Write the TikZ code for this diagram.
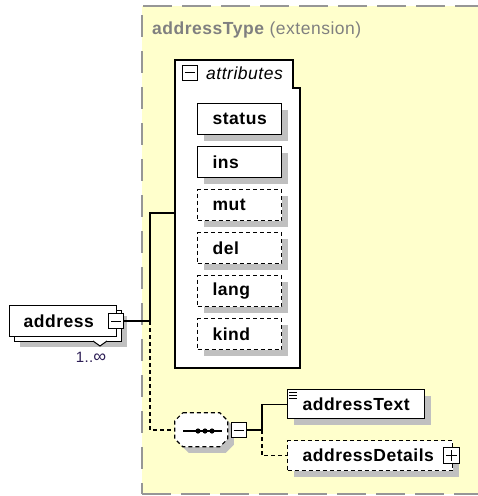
\documentclass[tikz,border=0pt]{standalone}
\usepackage{fontspec}
\setmainfont[LetterSpace=3]{Liberation Sans}
\usetikzlibrary{shadows}
\definecolor{bgyellow}{RGB}{255,255,204}
\definecolor{framegray}{RGB}{150,150,150}
\definecolor{shadowgray}{RGB}{192,192,192}
\definecolor{titlegray}{RGB}{128,128,128}
\definecolor{multcol}{RGB}{45,30,85}
\begin{document}
\begin{tikzpicture}[x=1pt,y=-1pt,
  every node/.style={font=\fontsize{17.5}{20}\selectfont},
  elem/.style={draw=black, line width=1.2pt, fill=white, anchor=north west,
    inner ysep=0pt, inner xsep=15pt, align=left,
    font=\bfseries\fontsize{17.5}{20}\selectfont,
    general shadow={fill=shadowgray, shadow xshift=6pt, shadow yshift=-6pt}},
  optelem/.style={elem, dash pattern=on 4pt off 3pt},
  conn/.style={line width=1.2pt},
  optconn/.style={conn, dash pattern=on 4pt off 3pt},
  toggle/.style={draw, line width=1pt, fill=white, minimum size=15pt, inner sep=0pt},
  sign/.style={line width=1pt},
]
\useasboundingbox (0,0) rectangle (478,496);
\clip (0,0) rectangle (478,496);

% yellow complex type area
\fill[bgyellow] (142,6) rectangle (500,494);
\draw[framegray, line width=1.5pt, dash pattern=on 29pt off 10pt] (143,6) -- (500,6);
\draw[framegray, line width=1.5pt, dash pattern=on 29pt off 10pt] (142,494) -- (500,494);
\draw[framegray, line width=1.5pt, dash pattern=on 22pt off 14pt] (142,15) -- (142,494);
\node[anchor=west, text=titlegray, inner sep=0pt] (title) at (152,30)
  {\bfseries addressType\mdseries\ (extension)};

% attributes box
\filldraw[fill=white, draw=black, line width=1.2pt]
  (175,60) -- (293,60) -- (293,88) -- (300,88) -- (300,368) -- (175,368) -- cycle;
\coordinate (attrin) at (175,213);
\node[toggle] (attrT) at (189.5,72.5) {};
\draw[sign] ([xshift=3pt]attrT.west) -- ([xshift=-3pt]attrT.east);
\node[anchor=west, inner sep=0pt, font=\itshape\fontsize{17.5}{20}\selectfont] (attrlbl) at (206,73) {attributes};

\node[elem, text width=54pt, minimum height=31pt] (status) at (197,103) {status};
\node[elem, text width=54pt, minimum height=31pt] (ins) at (197,146) {ins};
\node[optelem, text width=54pt, minimum height=31pt] (mut) at (197,189) {mut};
\node[optelem, text width=54pt, minimum height=31pt] (del) at (197,232) {del};
\node[optelem, text width=54pt, minimum height=31pt] (lang) at (197,275) {lang};
\node[optelem, text width=54pt, minimum height=31pt] (kind) at (197,318) {kind};

% address element (1..unbounded)
\fill[shadowgray] (20,316) rectangle (127,347);
\filldraw[fill=white, draw=black, line width=1pt] (14,310) rectangle (121,341);
\node[draw=black, line width=1.2pt, fill=white, anchor=north west, inner ysep=0pt,
  inner xsep=14pt, text width=79pt, align=left, minimum height=31pt,
  font=\bfseries\fontsize{17.5}{20}\selectfont] (address) at (9,305) {address};
\filldraw[fill=white, draw=black, line width=1pt] (93,341) -- (100,346) -- (107,341);
\node[toggle] (addrT) at (116,321) {};
\draw[sign] ([xshift=3pt]addrT.west) -- ([xshift=-3pt]addrT.east);
\node[text=multcol, font=\fontsize{15}{18}\selectfont, inner sep=0pt] (mult) at (91,357) {1..{\fontsize{18}{18}\selectfont ∞}};

% sequence compositor
\node[inner sep=0pt, minimum width=53pt, minimum height=34pt] (seq) at (201.5,430) {};
\fill[shadowgray] ([shift={(6,6)}]seq.north west) ++(8,0) -- ++(37,0) -- ++(8,8) -- ++(0,18) -- ++(-8,8) -- ++(-37,0) -- ++(-8,-8) -- ++(0,-18) -- cycle;
\filldraw[fill=white, draw=black, line width=1.2pt, dash pattern=on 4pt off 3pt]
  (seq.north west) ++(8,0) -- ++(37,0) -- ++(8,8) -- ++(0,18) -- ++(-8,8) -- ++(-37,0) -- ++(-8,-8) -- ++(0,-18) -- cycle;
\draw[line width=1.2pt] (183,431) -- (222,431);
\fill (198,431) circle (2.6) (205,431) circle (2.6) (212,431) circle (2.6);
\node[toggle] (seqT) at (238.5,430) {};
\draw[sign] ([xshift=3pt]seqT.west) -- ([xshift=-3pt]seqT.east);

% children
\node[elem, inner xsep=0pt, minimum width=137pt, minimum height=29pt] (atext) at (287,389) {addressText};
\draw[line width=1pt] (289,392) -- (297,392) (289,395) -- (297,395) (289,398) -- (297,398);
\node[optelem, text width=135pt, minimum height=30pt] (adet) at (287,440) {addressDetails};
\node[toggle, minimum size=16pt] (adetT) at (451.5,455.5) {};
\draw[sign] ([xshift=3pt]adetT.west) -- ([xshift=-3pt]adetT.east);
\draw[sign] ([yshift=-3pt]adetT.north) -- ([yshift=3pt]adetT.south);

% connectors
\coordinate (fork1) at (150,321);
\coordinate (fork2) at (262,430);
\draw[conn] (addrT.east) -- (fork1) |- (attrin);
\draw[optconn] (fork1) |- (seq.west);
\draw[conn] (seqT.east) -- (fork2) |- (atext.west);
\draw[optconn] (fork2) |- (adet.west);
\end{tikzpicture}
\end{document}
